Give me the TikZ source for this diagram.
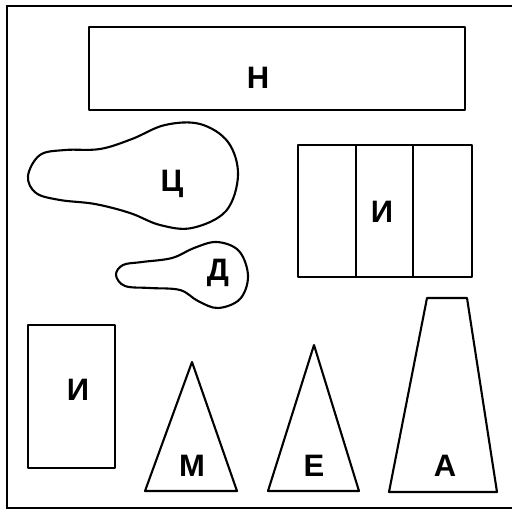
\documentclass[tikz,border=0pt]{standalone}
\usepackage{fontspec}
\setmainfont{Liberation Sans}
\usepackage{tikz}
\usetikzlibrary{positioning}

\tikzset{
  outline/.style={draw=black,line width=2.1pt,line join=round},
  letter/.style={font=\bfseries\fontsize{31}{31}\selectfont,inner sep=0pt}
}

\begin{document}
\begin{tikzpicture}[x=1pt,y=-1pt]
  \useasboundingbox (0,0) rectangle (516,517);

  % Open frame: left, top and bottom only.
  \draw[line width=2.4pt] (512,6) -- (7,6) -- (7,508) -- (512,508);

  % Wide box on top.
  \draw[outline] (89,27) rectangle (465,110);
  \node[letter] (n) at (258,78) {Н};

  % Large pear shape.
  \draw[outline] plot[smooth cycle,tension=0.6] coordinates {
    (28,176) (40,155) (65,150) (100,149) (132,139) (165,125) (200,124)
    (228,142) (238,175) (226,211) (192,228) (160,225) (130,213)
    (95,204) (60,200) (36,193)};
  \node[letter] (c) at (172,184) {Ц};

  % Small pear shape.
  \draw[outline] plot[smooth cycle,tension=0.6] coordinates {
    (116,275) (123,265) (142,262) (172,258) (194,248) (217,242)
    (239,251) (248,276) (240,299) (218,308) (198,301) (180,290)
    (150,288) (125,286)};
  \node[letter] (d) at (218,273) {Д};

  % Box split into three strips.
  \draw[outline] (298,145) rectangle (472,277);
  \foreach \xs in {356,413}{
    \draw[outline] (\xs,145) -- (\xs,277);
  }
  \node[letter] (i1) at (382,212) {И};

  % Tall box, lower left.
  \draw[outline] (28,325) rectangle (115,468);
  \node[letter] (i2) at (78,390) {И};

  % Triangles and trapezoid.
  \draw[outline] (192,362) -- (237,491) -- (145,491) -- cycle;
  \node[letter] (m) at (192,466) {М};
  \draw[outline] (314,345) -- (359,491) -- (268,491) -- cycle;
  \node[letter] (e) at (314,466) {Е};
  \draw[outline] (427,298) -- (467,298) -- (497,492) -- (389,492) -- cycle;
  \node[letter] (a) at (445,466) {А};
\end{tikzpicture}
\end{document}
